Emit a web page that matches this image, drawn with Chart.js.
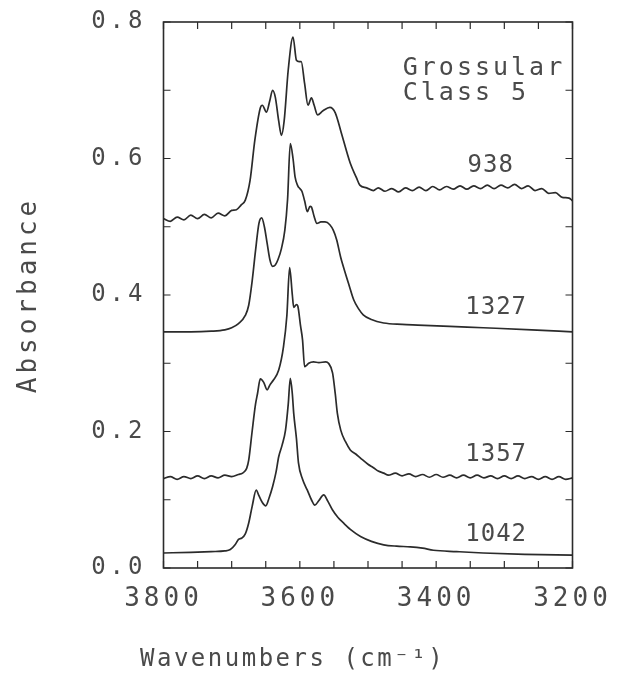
<!DOCTYPE html>
<html>
<head>
<meta charset="utf-8">
<script src="https://cdn.jsdelivr.net/npm/chart.js@4.4.1/dist/chart.umd.min.js"></script>
<style>
  html, body { margin: 0; padding: 0; background: #fff; }
  #wrap { width: 631px; height: 677px; }
</style>
</head>
<body>
<div id="wrap"><canvas id="spectra" width="631" height="677"></canvas></div>
<script>
// --- Datos (numero de onda cm-1, absorbancia) ---
const wn938 = [3800, 3790, 3780, 3770, 3760, 3750, 3740, 3730, 3720, 3710, 3700, 3693, 3686, 3680, 3673, 3666, 3658, 3655, 3649, 3644, 3640, 3636, 3631, 3627, 3623, 3617, 3610, 3605, 3601, 3598, 3593, 3588, 3583, 3579, 3574, 3566, 3556, 3548, 3539, 3526, 3517, 3512, 3502, 3492, 3485, 3475, 3465, 3455, 3445, 3435, 3425, 3415, 3405, 3395, 3385, 3375, 3365, 3355, 3345, 3335, 3325, 3315, 3305, 3295, 3285, 3275, 3265, 3255, 3245, 3235, 3225, 3215, 3205, 3200];
const abs938 = [0.512, 0.508, 0.514, 0.510, 0.517, 0.512, 0.518, 0.513, 0.520, 0.516, 0.524, 0.525, 0.532, 0.539, 0.568, 0.627, 0.674, 0.678, 0.668, 0.685, 0.700, 0.690, 0.655, 0.634, 0.655, 0.730, 0.778, 0.744, 0.742, 0.742, 0.710, 0.678, 0.689, 0.678, 0.664, 0.670, 0.675, 0.667, 0.637, 0.593, 0.572, 0.561, 0.557, 0.553, 0.557, 0.552, 0.556, 0.551, 0.557, 0.553, 0.558, 0.553, 0.559, 0.554, 0.559, 0.555, 0.560, 0.555, 0.560, 0.556, 0.561, 0.556, 0.561, 0.557, 0.562, 0.556, 0.560, 0.553, 0.556, 0.549, 0.550, 0.543, 0.542, 0.538];

const wn1327 = [3800, 3760, 3730, 3710, 3700, 3690, 3680, 3675, 3670, 3665, 3660, 3656, 3652, 3648, 3644, 3640, 3636, 3632, 3627, 3622, 3618, 3614, 3610, 3607, 3603, 3600, 3597, 3593, 3589, 3585, 3583, 3579, 3575, 3569, 3563, 3556, 3551, 3546, 3540, 3536, 3528, 3521, 3514, 3507, 3495, 3477, 3450, 3427, 3380, 3331, 3260, 3200];
const abs1327 = [0.346, 0.346, 0.347, 0.349, 0.352, 0.358, 0.370, 0.385, 0.420, 0.465, 0.505, 0.513, 0.500, 0.476, 0.452, 0.442, 0.444, 0.452, 0.468, 0.495, 0.540, 0.622, 0.600, 0.573, 0.560, 0.556, 0.552, 0.538, 0.522, 0.530, 0.529, 0.515, 0.505, 0.507, 0.507, 0.503, 0.495, 0.481, 0.455, 0.441, 0.415, 0.393, 0.380, 0.371, 0.364, 0.359, 0.357, 0.356, 0.354, 0.352, 0.349, 0.346];

const wn1357 = [3800, 3790, 3780, 3770, 3760, 3750, 3740, 3730, 3720, 3710, 3700, 3690, 3684, 3678, 3675, 3670, 3665, 3662, 3658, 3653, 3648, 3644, 3639, 3631, 3624, 3619, 3615, 3611, 3609, 3605, 3603, 3599, 3596, 3593, 3590, 3587, 3580, 3572, 3562, 3558, 3552, 3548, 3545, 3540, 3533, 3526, 3518, 3511, 3500, 3492, 3485, 3477, 3470, 3460, 3450, 3440, 3430, 3420, 3410, 3400, 3390, 3380, 3370, 3360, 3350, 3340, 3330, 3320, 3310, 3300, 3290, 3280, 3270, 3260, 3250, 3240, 3230, 3220, 3210, 3200];
const abs1357 = [0.131, 0.134, 0.130, 0.134, 0.131, 0.135, 0.131, 0.135, 0.132, 0.136, 0.134, 0.137, 0.139, 0.146, 0.158, 0.200, 0.240, 0.256, 0.277, 0.272, 0.261, 0.268, 0.275, 0.290, 0.324, 0.370, 0.440, 0.400, 0.382, 0.386, 0.384, 0.355, 0.334, 0.295, 0.297, 0.300, 0.302, 0.301, 0.302, 0.300, 0.286, 0.255, 0.227, 0.202, 0.185, 0.173, 0.167, 0.161, 0.152, 0.147, 0.142, 0.139, 0.136, 0.139, 0.135, 0.138, 0.134, 0.137, 0.133, 0.137, 0.133, 0.136, 0.132, 0.136, 0.132, 0.136, 0.132, 0.135, 0.131, 0.135, 0.131, 0.135, 0.131, 0.134, 0.130, 0.134, 0.130, 0.134, 0.130, 0.132];

const wn1042 = [3800, 3760, 3730, 3710, 3702, 3695, 3690, 3685, 3680, 3675, 3670, 3664, 3660, 3655, 3650, 3645, 3640, 3635, 3631, 3626, 3621, 3617, 3614, 3611, 3609, 3605, 3602, 3596, 3589, 3583, 3578, 3572, 3565, 3559, 3552, 3544, 3536, 3524, 3511, 3495, 3477, 3458, 3438, 3420, 3404, 3370, 3331, 3270, 3200];
const abs1042 = [0.022, 0.023, 0.024, 0.025, 0.027, 0.034, 0.042, 0.044, 0.050, 0.066, 0.090, 0.114, 0.106, 0.096, 0.091, 0.103, 0.119, 0.140, 0.163, 0.180, 0.202, 0.240, 0.278, 0.255, 0.227, 0.190, 0.154, 0.130, 0.114, 0.100, 0.092, 0.099, 0.107, 0.098, 0.085, 0.074, 0.066, 0.055, 0.046, 0.039, 0.034, 0.032, 0.031, 0.029, 0.026, 0.024, 0.022, 0.020, 0.019];

const seriesLabels = ['938', '1327', '1357', '1042'];
const xTickLabels = [3800, 3600, 3400, 3200];
const yTickLabels = [0.0, 0.2, 0.4, 0.6, 0.8];

document.addEventListener('DOMContentLoaded', () => {
    const canvas = document.getElementById('spectra');
    const FONT = '"DejaVu Sans Mono", monospace';
    const INK = '#2b2b2b';
    const TEXT = '#4a4a4a';

    const toPoints = (xs, ys) => xs.map((x, i) => ({ x: x, y: ys[i] }));
    const series = [
        toPoints(wn938, abs938),
        toPoints(wn1327, abs1327),
        toPoints(wn1357, abs1357),
        toPoints(wn1042, abs1042)
    ];

    // Espaciado de letras tipo plotter
    const spacing = {
        id: 'spacing',
        beforeLayout(chart) { chart.ctx.letterSpacing = '4px'; },
        beforeDraw(chart) { chart.ctx.letterSpacing = '4px'; }
    };

    // Marco, marcas hacia adentro y textos sueltos
    const frame = {
        id: 'frame',
        afterDraw(chart) {
            const { ctx, chartArea: a, scales: { x, y } } = chart;
            ctx.save();
            ctx.strokeStyle = INK;
            ctx.lineWidth = 1.6;
            ctx.strokeRect(a.left, a.top, a.right - a.left, a.bottom - a.top);
            ctx.lineWidth = 1.2;
            ctx.beginPath();
            x.ticks.forEach(t => {
                const px = x.getPixelForValue(t.value);
                ctx.moveTo(px, a.bottom); ctx.lineTo(px, a.bottom - 7);
                ctx.moveTo(px, a.top); ctx.lineTo(px, a.top + 7);
            });
            y.ticks.forEach(t => {
                const py = y.getPixelForValue(t.value);
                ctx.moveTo(a.left, py); ctx.lineTo(a.left + 7, py);
                ctx.moveTo(a.right, py); ctx.lineTo(a.right - 7, py);
            });
            ctx.stroke();

            ctx.fillStyle = TEXT;
            ctx.textBaseline = 'middle';
            ctx.textAlign = 'center';
            ctx.letterSpacing = '1px';
            ctx.font = '24px ' + FONT;
            const spots = [[3320, 0.590], [3312, 0.381], [3312, 0.166], [3312, 0.048]];
            seriesLabels.forEach((lbl, i) => {
                ctx.fillText(lbl, x.getPixelForValue(spots[i][0]), y.getPixelForValue(spots[i][1]));
            });

            ctx.textAlign = 'left';
            ctx.textBaseline = 'alphabetic';
            ctx.letterSpacing = '3px';
            ctx.font = '25px ' + FONT;
            const gx = x.getPixelForValue(3449);
            ctx.fillText('Grossular', gx, y.getPixelForValue(0.722));
            ctx.fillText('Class 5', gx, y.getPixelForValue(0.686));

            // titulo del eje x, algo corrido a la izquierda como en el original
            ctx.letterSpacing = '2.5px';
            ctx.font = '24px ' + FONT;
            ctx.textBaseline = 'middle';
            ctx.fillText('Wavenumbers (cm⁻¹)', 140, 660);
            ctx.restore();
        }
    };

    new Chart(canvas.getContext('2d'), {
        type: 'line',
        data: {
            datasets: series.map((pts, i) => ({
                label: seriesLabels[i],
                data: pts,
                borderColor: INK,
                borderWidth: 1.7,
                pointRadius: 0,
                fill: false,
                cubicInterpolationMode: 'monotone'
            }))
        },
        options: {
            responsive: false,
            animation: false,
            devicePixelRatio: 1,
            layout: { padding: { left: 0, top: 22, right: 58.5, bottom: 0 } },
            plugins: { legend: { display: false }, tooltip: { enabled: false } },
            scales: {
                x: {
                    type: 'linear',
                    min: 3200, max: 3800, reverse: true,
                    border: { display: false },
                    grid: { display: false, drawTicks: false },
                    ticks: {
                        stepSize: 50, autoSkip: false, maxRotation: 0, padding: 16,
                        color: TEXT, font: { family: FONT, size: 26 },
                        callback: v => xTickLabels.includes(v) ? String(v) : ''
                    },
                    afterFit: s => { s.height = 109; s.paddingLeft = 0; s.paddingRight = 0; }
                },
                y: {
                    min: 0, max: 0.8,
                    border: { display: false },
                    grid: { display: false, drawTicks: false },
                    ticks: {
                        stepSize: 0.1, autoSkip: false, padding: 17,
                        color: TEXT, font: { family: FONT, size: 24 },
                        callback: v => {
                            const r = Math.round(v * 10) / 10;
                            return yTickLabels.some(t => Math.abs(t - r) < 1e-6) ? r.toFixed(1) : '';
                        }
                    },
                    title: {
                        display: true, text: 'Absorbance', color: TEXT,
                        font: { family: FONT, size: 26 }, padding: { top: 14, bottom: 0 }
                    },
                    afterFit: s => { s.width = 163.5; s.paddingTop = 0; s.paddingBottom = 0; }
                }
            }
        },
        plugins: [spacing, frame]
    });
});
</script>
</body>
</html>
